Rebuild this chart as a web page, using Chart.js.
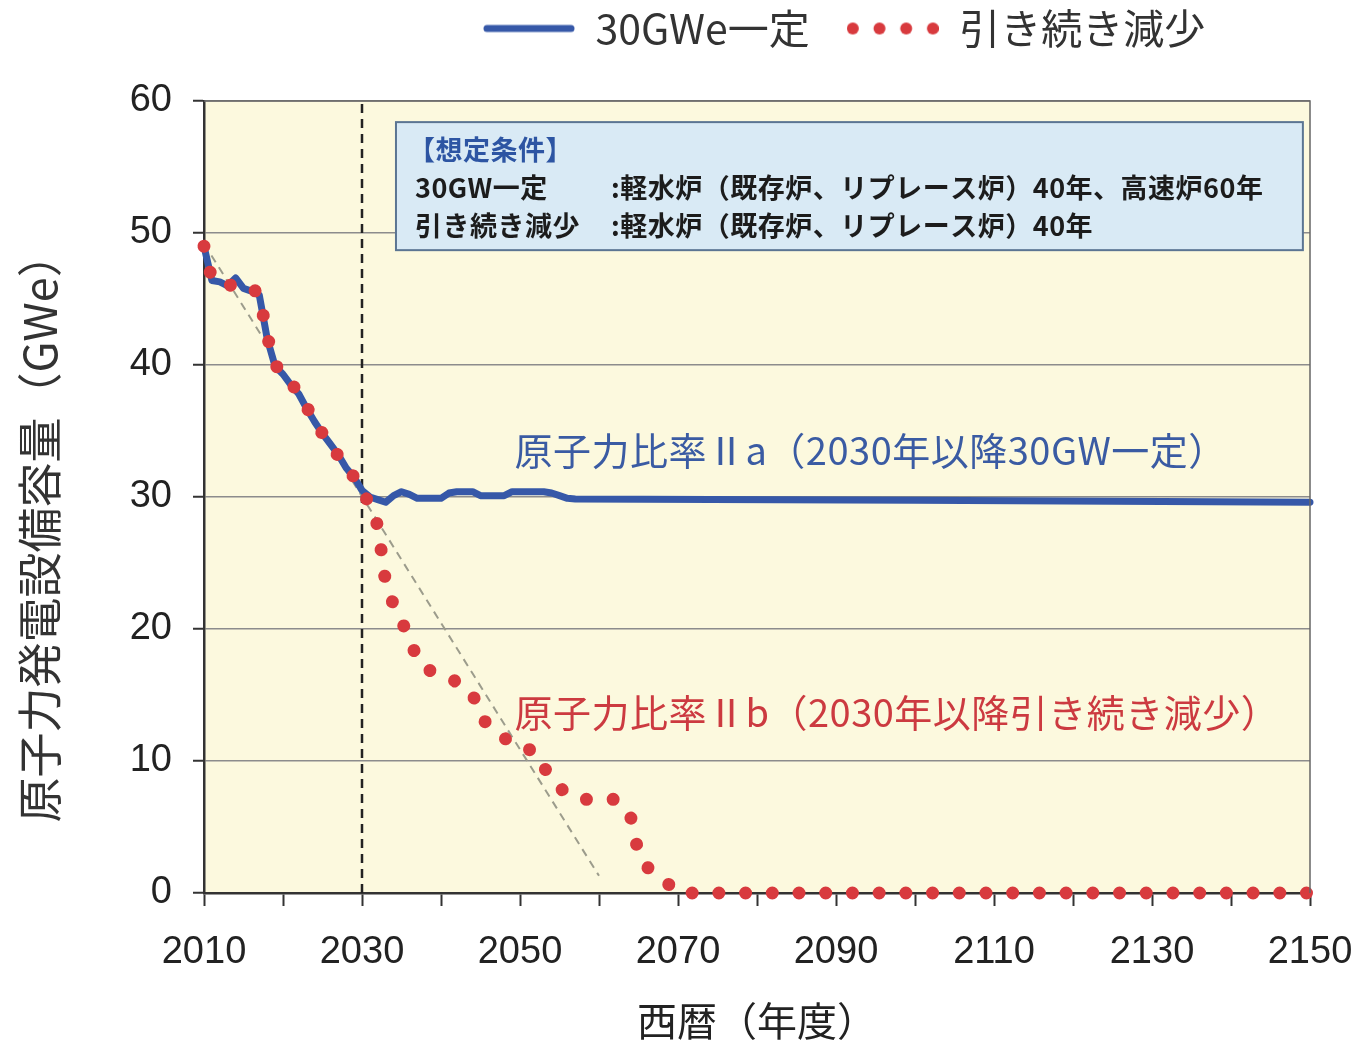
<!DOCTYPE html>
<html>
<head>
<meta charset="utf-8">
<script src="https://cdn.jsdelivr.net/npm/chart.js@4.4.1/dist/chart.umd.min.js"></script>
<style>
html, body { margin: 0; padding: 0; background: #fff; }
</style>
</head>
<body>
<canvas id="myChart" width="1355" height="1045"></canvas>
<script>
// 30GWe一定 (blue line)
var blueYears = [2010, 2011, 2012, 2013, 2014, 2015, 2016, 2017, 2018, 2019,
                 2020, 2021, 2022, 2023, 2024, 2025, 2026, 2027, 2028, 2029,
                 2030, 2031, 2032, 2033, 2034, 2035, 2036, 2037,
                 2040, 2041, 2042, 2044, 2045, 2048, 2049, 2053, 2054, 2055, 2056, 2057, 2100, 2150];
var blueValues = [49.0, 46.4, 46.3, 46.0, 46.6, 45.8, 45.6, 45.3, 42.0, 39.9,
                  39.3, 38.5, 37.8, 36.7, 35.7, 34.8, 34.0, 33.2, 32.2, 31.5,
                  30.5, 30.0, 29.8, 29.6, 30.1, 30.4, 30.2, 29.9,
                  29.9, 30.3, 30.4, 30.4, 30.1, 30.1, 30.4, 30.4, 30.3, 30.1, 29.9, 29.85, 29.75, 29.6];

// 引き続き減少 (red dotted line)
var redYears = [2010, 2011, 2013, 2015, 2016, 2017, 2018, 2019, 2020,
                2021, 2022, 2023, 2024, 2025, 2026, 2027, 2028, 2029, 2030,
                2031, 2032, 2033, 2034, 2035, 2036, 2037, 2038,
                2040, 2042, 2044, 2045, 2047, 2049,
                2052, 2053, 2054, 2056, 2058,
                2062, 2064, 2065, 2066, 2068, 2070, 2150];
var redValues = [49.0, 46.5, 46.1, 45.8, 45.9, 45.3, 42.2, 40.0, 39.4,
                 38.6, 37.9, 36.8, 35.8, 34.8, 34.0, 33.1, 32.3, 31.5, 30.5,
                 29.4, 27.8, 23.5, 21.8, 20.6, 19.3, 17.7, 17.0,
                 16.5, 16.0, 15.1, 13.3, 12.2, 11.3,
                 10.7, 9.6, 8.5, 7.5, 7.1,
                 7.1, 5.8, 3.0, 2.0, 1.1, 0, 0];

// gray dashed trend and the 2030 marker
var trendYears = [2010, 2060];
var trendValues = [49.2, 1.3];
var markYears = [2030, 2030];
var markValues = [0, 60];

var seriesNames = ["30GWe一定", "引き続き減少"];
var xTitle = "西暦（年度）";
var yTitle = "原子力発電設備容量（GWe）";
var labelA = "原子力比率Ⅱa（2030年以降30GW一定）";
var labelB = "原子力比率Ⅱb（2030年以降引き続き減少）";
var noteHead = "【想定条件】";
var noteRows = [["30GW一定", ":軽水炉（既存炉、リプレース炉）40年、高速炉60年"],
                ["引き続き減少", ":軽水炉（既存炉、リプレース炉）40年"]];

var BLUE = "#3658a8";
var RED = "#d83a3e";
var JP = "'Noto Sans CJK JP', 'Noto Sans', sans-serif";
var LAT = "'Liberation Sans', Arial, sans-serif";

function pairs(xs, ys) {
  var out = [];
  for (var i = 0; i < xs.length; i++) out.push({x: xs[i], y: ys[i]});
  return out;
}

function lineSample() {
  var c = document.createElement("canvas");
  c.width = 92; c.height = 12;
  var g = c.getContext("2d");
  g.strokeStyle = BLUE; g.lineWidth = 7; g.lineCap = "round";
  g.beginPath(); g.moveTo(4, 6); g.lineTo(88, 6); g.stroke();
  return c;
}
function dotSample() {
  var c = document.createElement("canvas");
  c.width = 92; c.height = 14;
  var g = c.getContext("2d");
  g.fillStyle = RED;
  for (var i = 0; i < 4; i++) {
    g.beginPath(); g.arc(6 + i * 26.7, 7, 6, 0, Math.PI * 2); g.fill();
  }
  return c;
}

var notes = {
  id: "notes",
  beforeDraw: function (chart) {
    var a = chart.chartArea, ctx = chart.ctx;
    ctx.save();
    ctx.fillStyle = "#fcf9de";
    ctx.fillRect(a.left, a.top, a.right - a.left, a.bottom - a.top);
    ctx.restore();
  },
  afterLayout: function (chart) {
    var lg = chart.legend;
    var pad = lg.options.labels.padding;
    var start = (lg.left + pad + lg.right - lg.lineWidths[0]) / 2;
    var dx = 483 - start;
    lg.left += dx; lg.right += dx;
    var dy = 28 - (lg.top + pad + 20);
    lg.top += dy; lg.bottom += dy;
  },
  afterDatasetsDraw: function (chart) {
    var ctx = chart.ctx, a = chart.chartArea;
    var xs = chart.scales.x, ys = chart.scales.y;
    ctx.save();
    ctx.strokeStyle = "#666"; ctx.lineWidth = 1.5;
    ctx.beginPath();
    ctx.moveTo(a.left, a.top); ctx.lineTo(a.right, a.top); ctx.lineTo(a.right, a.bottom);
    ctx.stroke();

    // condition box
    var bx0 = xs.getPixelForValue(2034.3), bx1 = xs.getPixelForValue(2149.1);
    var by0 = ys.getPixelForValue(58.4), by1 = ys.getPixelForValue(48.7);
    ctx.fillStyle = "#d9eaf5";
    ctx.fillRect(bx0, by0, bx1 - bx0, by1 - by0);
    ctx.strokeStyle = "#5b7592"; ctx.lineWidth = 2;
    ctx.strokeRect(bx0, by0, bx1 - bx0, by1 - by0);
    ctx.textBaseline = "middle"; ctx.textAlign = "left";
    ctx.font = "bold 27px " + JP;
    ctx.letterSpacing = "0.5px";
    ctx.fillStyle = "#2d55a3";
    ctx.fillText(noteHead, bx0 + 12, by0 + 28);
    ctx.fillStyle = "#1c1c1c";
    for (var i = 0; i < noteRows.length; i++) {
      var yy = by0 + 66 + i * 38;
      ctx.fillText(noteRows[i][0], bx0 + 19, yy);
      ctx.fillText(noteRows[i][1], bx0 + 215, yy);
    }

    // series captions
    ctx.font = "38px " + JP;
    ctx.fillStyle = "#3a5ba3";
    ctx.fillText(labelA, xs.getPixelForValue(2049.3), ys.getPixelForValue(33.5));
    ctx.fillStyle = "#cc3a40";
    ctx.fillText(labelB, xs.getPixelForValue(2049.3), ys.getPixelForValue(13.7));

    // y axis title, sitting a little below the axis middle as in the source
    ctx.letterSpacing = "0px";
    ctx.translate(40, ys.getPixelForValue(27.7));
    ctx.rotate(-Math.PI / 2);
    ctx.textAlign = "center";
    ctx.font = "45px " + JP;
    ctx.fillStyle = "#333";
    ctx.fillText(yTitle, 0, 0);
    ctx.restore();
  }
};

new Chart("myChart", {
  type: "line",
  data: {
    datasets: [{
      label: seriesNames[0],
      data: pairs(blueYears, blueValues),
      borderColor: BLUE,
      borderWidth: 7,
      borderJoinStyle: "round",
      borderCapStyle: "round",
      pointRadius: 0,
      tension: 0,
      clip: false,
      order: 1
    }, {
      label: seriesNames[1],
      data: pairs(redYears, redValues),
      borderColor: RED,
      borderWidth: 13,
      borderDash: [0.01, 26.7],
      borderCapStyle: "round",
      pointRadius: 0,
      tension: 0,
      clip: false,
      order: 0
    }, {
      label: "trend",
      data: pairs(trendYears, trendValues),
      borderColor: "#9c9c8c",
      borderWidth: 2,
      borderDash: [8, 6],
      pointRadius: 0,
      order: 2
    }, {
      label: "2030",
      data: pairs(markYears, markValues),
      borderColor: "#222",
      borderWidth: 2.5,
      borderDash: [9, 6],
      pointRadius: 0,
      order: 3
    }]
  },
  options: {
    responsive: false,
    animation: false,
    devicePixelRatio: 1,
    layout: { padding: { top: 21, right: 45, left: 0, bottom: 0 } },
    plugins: {
      tooltip: { enabled: false },
      legend: {
        position: "top",
        align: "center",
        maxHeight: 80,
        labels: {
          usePointStyle: true,
          pointStyleWidth: 92,
          padding: 37,
          color: "#333",
          font: { family: JP, size: 41 },
          generateLabels: function () {
            return [
              { text: seriesNames[0], pointStyle: lineSample(), datasetIndex: 0, lineWidth: 0, fontColor: "#333" },
              { text: seriesNames[1], pointStyle: dotSample(), datasetIndex: 1, lineWidth: 0, fontColor: "#333" }
            ];
          }
        }
      }
    },
    scales: {
      x: {
        type: "linear",
        min: 2010,
        max: 2150,
        afterFit: function (s) { s.height = 152; s.paddingLeft = 0; s.paddingRight = 0; },
        ticks: {
          stepSize: 10,
          autoSkip: false,
          maxRotation: 0,
          padding: 24,
          color: "#222",
          font: { family: LAT, size: 38 },
          callback: function (v) { return (v - 2010) % 20 === 0 ? String(v) : ""; }
        },
        grid: { drawOnChartArea: false, tickLength: 13, tickColor: "#333", tickWidth: 2 },
        border: { color: "#333", width: 2.5 },
        title: {
          display: true,
          text: xTitle,
          color: "#222",
          font: { family: JP, size: 40 },
          padding: { top: 0, bottom: 0 }
        }
      },
      y: {
        min: 0,
        max: 60,
        afterFit: function (s) { s.width = 204; },
        ticks: {
          stepSize: 10,
          padding: 21,
          color: "#222",
          font: { family: LAT, size: 38 }
        },
        grid: { color: "#8c8c8c", lineWidth: 1.5, tickLength: 11, tickColor: "#333", tickWidth: 2 },
        border: { color: "#333", width: 2.5 }
      }
    }
  },
  plugins: [notes]
});
</script>
</body>
</html>
